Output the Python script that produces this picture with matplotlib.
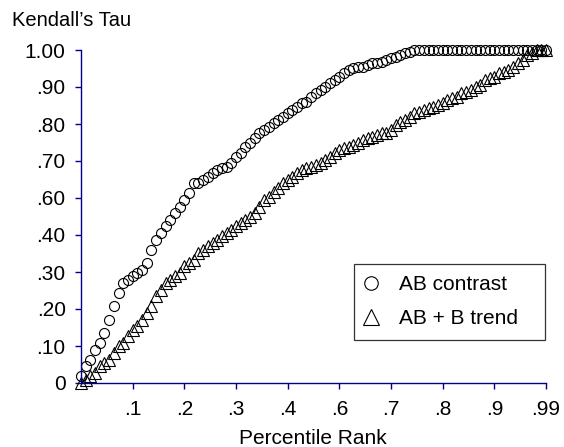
import matplotlib
matplotlib.use("Agg")
import matplotlib.pyplot as plt

plt.rcParams['font.family'] = ['Liberation Sans', 'DejaVu Sans']

# Percentile rank (x) for each simulated value
pct_rank = [i / 100 for i in range(100)]

ab_contrast = [
    0.02, 0.05, 0.07, 0.10, 0.12, 0.15, 0.19, 0.23, 0.27, 0.30,
    0.31, 0.32, 0.33, 0.34, 0.36, 0.40, 0.43, 0.45, 0.47, 0.49,
    0.51, 0.53, 0.55, 0.57, 0.60, 0.60, 0.61, 0.62, 0.63, 0.64,
    0.645, 0.65, 0.66, 0.68, 0.69, 0.71, 0.72, 0.735, 0.75, 0.76,
    0.77, 0.78, 0.79, 0.80, 0.81, 0.82, 0.83, 0.84, 0.845, 0.86,
    0.87, 0.88, 0.89, 0.90, 0.91, 0.92, 0.93, 0.94, 0.945, 0.95,
    0.95, 0.955, 0.96, 0.96, 0.965, 0.97, 0.975, 0.98, 0.985, 0.99,
    0.995, 1.0, 1.0, 1.0, 1.0, 1.0, 1.0, 1.0, 1.0, 1.0,
    1.0, 1.0, 1.0, 1.0, 1.0, 1.0, 1.0, 1.0, 1.0, 1.0,
    1.0, 1.0, 1.0, 1.0, 1.0, 1.0, 1.0, 1.0, 1.0, 1.0,
]

ab_b_trend = [
    0.00, 0.01, 0.02, 0.03, 0.05, 0.06, 0.07, 0.09, 0.11, 0.12,
    0.14, 0.16, 0.17, 0.19, 0.21, 0.23, 0.26, 0.28, 0.30, 0.31,
    0.32, 0.33, 0.35, 0.36, 0.37, 0.39, 0.40, 0.41, 0.42, 0.43,
    0.44, 0.45, 0.46, 0.47, 0.48, 0.49, 0.50, 0.51, 0.53, 0.55,
    0.56, 0.575, 0.585, 0.60, 0.61, 0.62, 0.63, 0.64, 0.645, 0.65,
    0.655, 0.66, 0.67, 0.68, 0.69, 0.70, 0.705, 0.71, 0.715, 0.72,
    0.73, 0.735, 0.74, 0.745, 0.75, 0.75, 0.76, 0.775, 0.785, 0.79,
    0.80, 0.81, 0.815, 0.82, 0.825, 0.83, 0.835, 0.84, 0.85, 0.855,
    0.86, 0.87, 0.875, 0.88, 0.89, 0.895, 0.91, 0.915, 0.92, 0.93,
    0.935, 0.94, 0.95, 0.96, 0.97, 0.985, 0.99, 1.0, 1.0, 1.0,
]

x_tick_pos = [0.11, 0.22, 0.33, 0.44, 0.55, 0.66, 0.77, 0.88, 0.99]
x_tick_labels = ['.1', '.2', '.3', '.4', '.6', '.7', '.8', '.9', '.99']
y_tick_pos = [k / 9 for k in range(10)]
y_tick_labels = ['0', '.10', '.20', '.30', '.40', '.60', '.70', '.80', '.90', '1.00']

axis_color = '#00008B'

fig = plt.figure(figsize=(5.64, 4.47), dpi=100)
ax = fig.add_axes([81/564, 1 - 383/447, (546 - 81)/564, (383 - 50)/447])

ax.plot(pct_rank, ab_contrast, linestyle='none', marker='o', ms=7.2,
        mfc='none', mec='black', mew=0.8, clip_on=False, label='AB contrast')
ax.plot(pct_rank, ab_b_trend, linestyle='none', marker='^', ms=8.2,
        mfc='none', mec='black', mew=0.8, clip_on=False, label='AB + B trend')

ax.set_xlim(0, 0.99)
ax.set_ylim(0, 1.0)
ax.set_xticks(x_tick_pos)
ax.set_xticklabels(x_tick_labels)
ax.set_yticks(y_tick_pos)
ax.set_yticklabels(y_tick_labels)

for s in ['top', 'right']:
    ax.spines[s].set_visible(False)
for s in ['left', 'bottom']:
    ax.spines[s].set_color(axis_color)
    ax.spines[s].set_linewidth(1.0)

ax.tick_params(axis='both', direction='out', length=4, width=1.0,
               color=axis_color, labelcolor='black', labelsize=15)
ax.tick_params(axis='y', pad=7)
ax.tick_params(axis='x', pad=8)

fig.text(12/564, 1 - 20/447, 'Kendall\u2019s Tau', ha='left', va='center', fontsize=14.5)
fig.text(313/564, 1 - 438/447, 'Percentile Rank', ha='center', va='center', fontsize=15)

leg = ax.legend(loc='upper left',
                bbox_to_anchor=(354/564, 1 - 337/447, (545 - 354)/564, 73/447),
                bbox_transform=fig.transFigure, mode='expand',
                frameon=True, fancybox=False,
                edgecolor='black', fontsize=15, markerscale=1.35,
                handlelength=0.5, handletextpad=1.1, borderpad=0.55,
                labelspacing=0.7, borderaxespad=0)
leg.get_frame().set_linewidth(0.9)

fig.savefig('out.png', dpi=100)
